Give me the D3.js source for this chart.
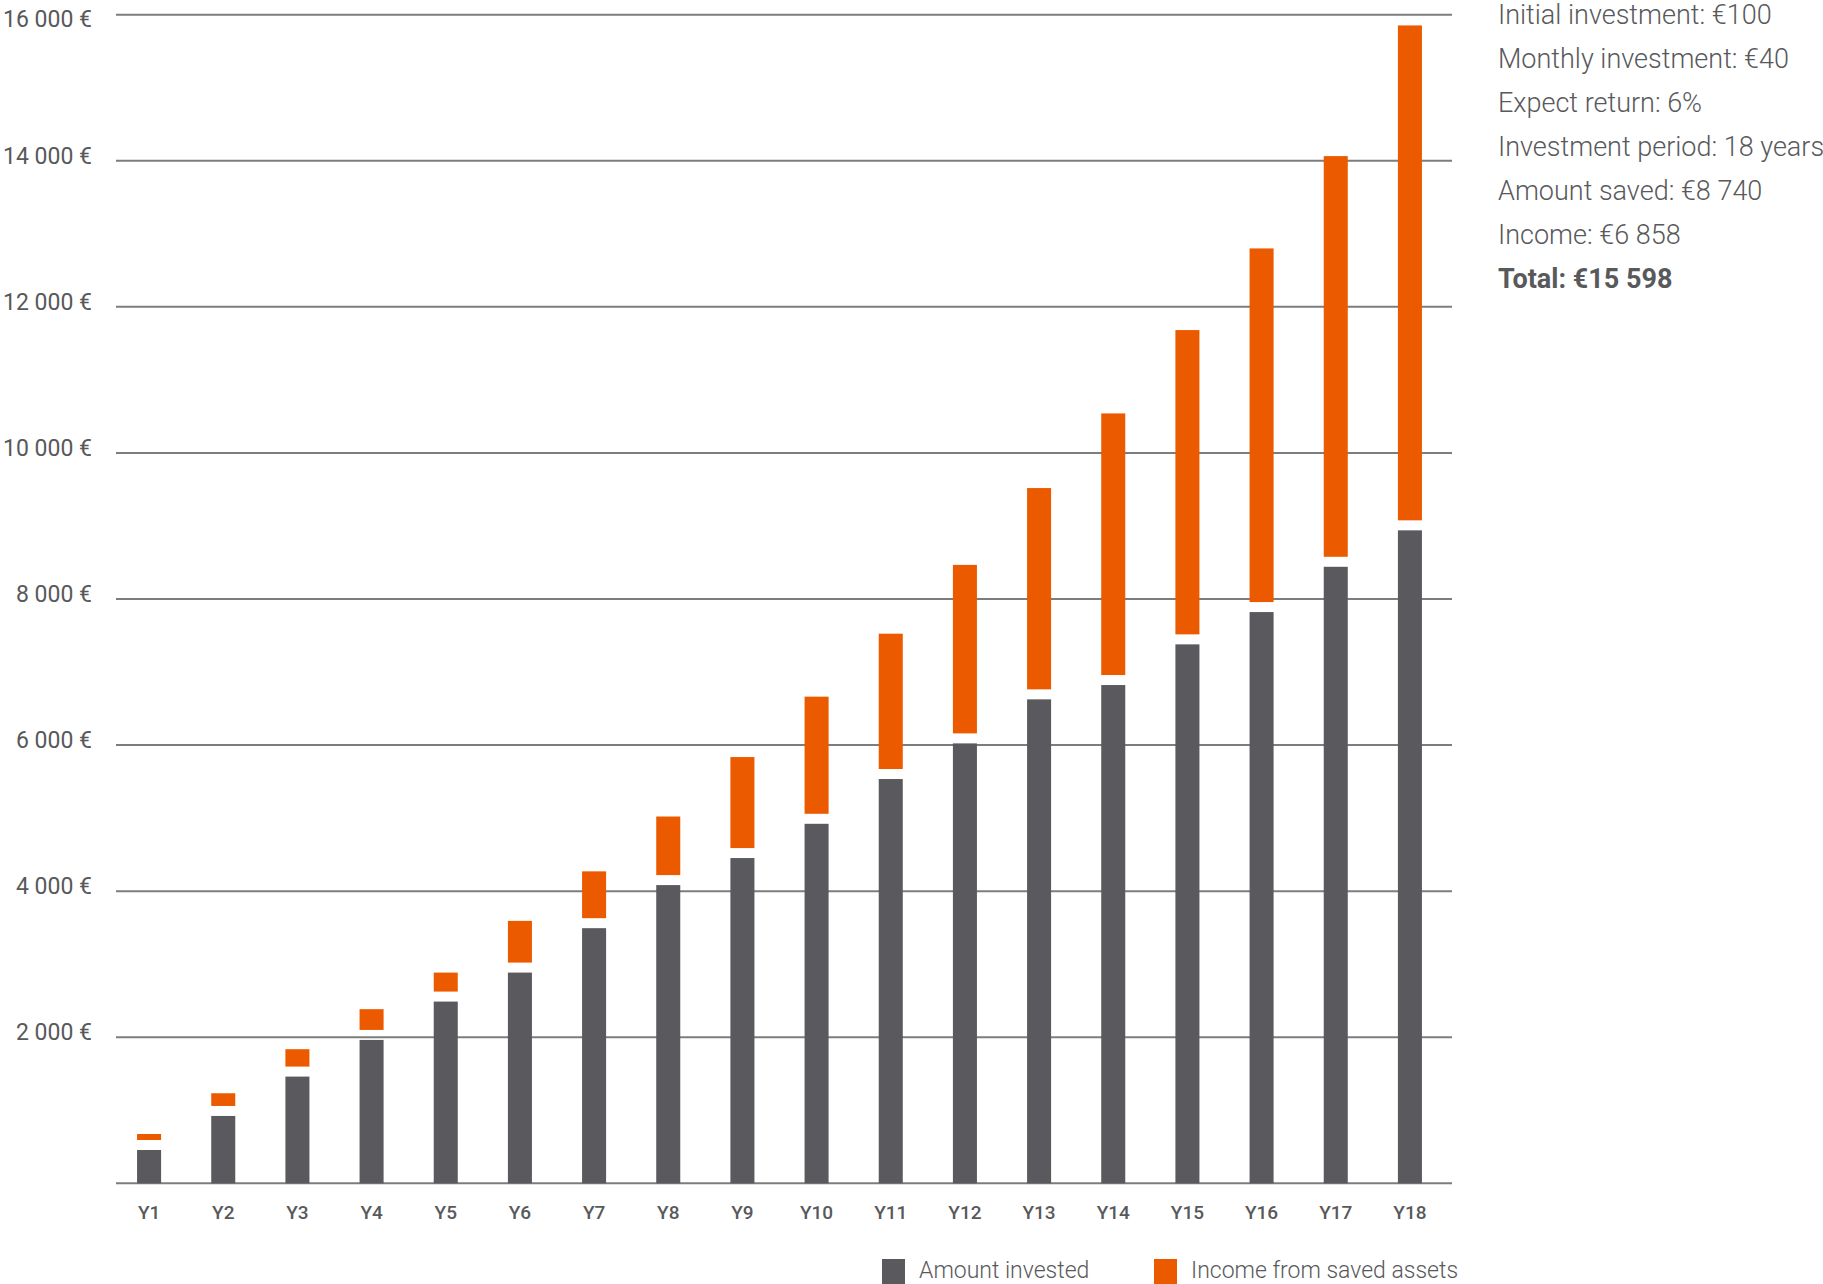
<!DOCTYPE html>
<html>
<head>
<meta charset="utf-8">
<script src="https://cdn.jsdelivr.net/npm/d3@7"></script>
<style>
  html, body { margin: 0; padding: 0; background: #fff; overflow: hidden; }
  text { font-family: Roboto, "Open Sans", sans-serif; fill: #58595b; }
</style>
</head>
<body>
<div id="chart"></div>
<script>
// values
const years = ["Y1", "Y2", "Y3", "Y4", "Y5", "Y6", "Y7", "Y8", "Y9", "Y10",
  "Y11", "Y12", "Y13", "Y14", "Y15", "Y16", "Y17", "Y18"];
const invested = [456, 922, 1461, 1963, 2488, 2885, 3493, 4083, 4453, 4922,
  5535, 6023, 6626, 6822, 7379, 7821, 8441, 8940];
const total = [675, 1233, 1836, 2384, 2885, 3593, 4271, 5022, 5836, 6663,
  7525, 8467, 9519, 10541, 11682, 12800, 14064, 15853];
const yTicks = [0, 2000, 4000, 6000, 8000, 10000, 12000, 14000, 16000];
const seriesNames = ["Amount invested", "Income from saved assets"];
const summaryLines = [
  "Initial investment: €100",
  "Monthly investment: €40",
  "Expect return: 6%",
  "Investment period: 18 years",
  "Amount saved: €8 740",
  "Income: €6 858",
  "Total: €15 598"
];

function drawChart(id) {
  const W = 1823, H = 1284;
  const grey = "#5a5a5e", orange = "#ec5a00", gridColor = "#7d7d7d";
  const gap = 10; // white gap between the two segments

  const svg = d3.select(`#${id}`)
    .append("svg")
    .attr("width", W)
    .attr("height", H);

  const x = d3.scaleBand()
    .domain(years)
    .range([112, 1447])
    .paddingInner(0.676)
    .paddingOuter(0.338);

  const y = d3.scaleLinear()
    .domain([0, 16000])
    .range([1183.3, 14.7]);

  // gridlines
  svg.append("g")
    .selectAll("line")
    .data(yTicks)
    .join("line")
    .attr("x1", 116)
    .attr("x2", 1452)
    .attr("y1", (d) => y(d))
    .attr("y2", (d) => y(d))
    .attr("stroke", gridColor)
    .attr("stroke-width", 2);

  // y labels, no label for 0
  const fmt = (d) => d3.format(",")(d).replace(/,/g, " ") + " €";
  svg.append("g")
    .selectAll("text")
    .data(yTicks.filter((d) => d > 0))
    .join("text")
    .attr("x", 92)
    .attr("y", (d) => Math.max(y(d) + 3, 27))
    .attr("text-anchor", "end")
    .style("font-size", "23px")
    .text(fmt);

  const rows = years.map((yr, i) => ({ year: yr, inv: invested[i], tot: total[i] }));

  // amount invested
  svg.append("g")
    .selectAll("rect")
    .data(rows)
    .join("rect")
    .attr("x", (d) => x(d.year))
    .attr("width", x.bandwidth())
    .attr("y", (d) => y(d.inv))
    .attr("height", (d) => y(0) - y(d.inv))
    .attr("fill", grey);

  // income on top, with a white gap
  svg.append("g")
    .selectAll("rect")
    .data(rows)
    .join("rect")
    .attr("x", (d) => x(d.year))
    .attr("width", x.bandwidth())
    .attr("y", (d) => y(d.tot))
    .attr("height", (d) => Math.max(0, y(d.inv) - gap - y(d.tot)))
    .attr("fill", orange);

  // x labels
  svg.append("g")
    .selectAll("text")
    .data(years)
    .join("text")
    .attr("x", (d) => x(d) + x.bandwidth() / 2)
    .attr("y", 1219)
    .attr("text-anchor", "middle")
    .style("font-size", "19px")
    .style("font-weight", 500)
    .text((d) => d);

  // legend at the bottom
  const legendX = [882, 1154];
  const legend = svg.append("g")
    .selectAll("g")
    .data(seriesNames)
    .join("g")
    .attr("transform", (d, i) => `translate(${legendX[i]},1259)`);
  legend.append("rect")
    .attr("width", 23)
    .attr("height", 30)
    .attr("fill", (d, i) => (i === 0 ? grey : orange));
  legend.append("text")
    .attr("x", 37)
    .attr("y", 19)
    .style("font-size", "23px")
    .style("font-weight", 300)
    .text((d) => d);

  // summary text top right
  svg.append("g")
    .selectAll("text")
    .data(summaryLines)
    .join("text")
    .attr("x", 1498)
    .attr("y", (d, i) => 24 + i * 44)
    .style("font-size", "27px")
    .style("font-weight", (d, i) => (i === summaryLines.length - 1 ? 700 : 300))
    .text((d) => d);
}

document.addEventListener("DOMContentLoaded", function () {
  drawChart("chart");
});
</script>
</body>
</html>
